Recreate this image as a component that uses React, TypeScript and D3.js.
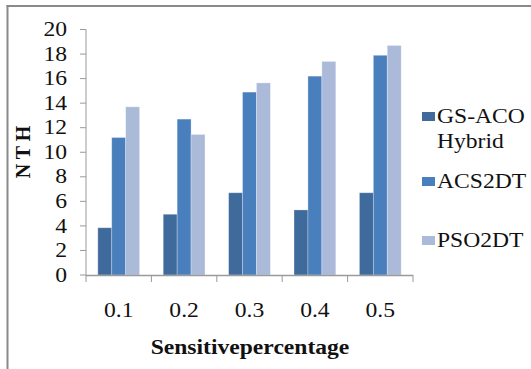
import React from "react";
import * as d3 from "d3";

const categories = ["0.1", "0.2", "0.3", "0.4", "0.5"];
const seriesNames = ["GS-ACO Hybrid", "ACS2DT", "PSO2DT"];
const gsAcoHybrid = [3.85, 4.95, 6.7, 5.3, 6.7];
const acs2dt = [11.2, 12.7, 14.9, 16.2, 17.9];
const pso2dt = [13.7, 11.45, 15.65, 17.4, 18.7];
const yTicks = [0, 2, 4, 6, 8, 10, 12, 14, 16, 18, 20];
const colors = ["#3F6A9C", "#4A7FBD", "#AABAD8"];

const W = 531;
const H = 369;
const FONT = `"Liberation Serif", monospace`;
const SX = 1.18;

function T({ x, y, anchor = "start", size = 20, bold = false, children }: any) {
  return (
    <text
      transform={`translate(${x},${y}) scale(${SX},1)`}
      x={0}
      y={0}
      textAnchor={anchor}
      fontSize={size}
      fontWeight={bold ? "bold" : "normal"}
      fill="#111"
      style={{ fontFamily: FONT }}
    >
      {children}
    </text>
  );
}

export default function App() {
  const values = [gsAcoHybrid, acs2dt, pso2dt];
  const y = d3.scaleLinear().domain([0, 20]).range([275, 29.5]);
  const x0 = d3.scaleBand<string>().domain(categories).range([86, 413]).padding(0);
  const x1 = d3
    .scaleBand<string>()
    .domain(seriesNames)
    .range([0, x0.bandwidth()])
    .paddingInner(0)
    .paddingOuter(0.85);

  const legendRows = [
    { lines: ["GS-ACO", "Hybrid"], base: 123 },
    { lines: ["ACS2DT"], base: 188 },
    { lines: ["PSO2DT"], base: 247 },
  ];

  const boundaries = d3.range(categories.length + 1).map((i) => 86 + i * x0.step());

  return (
    <svg width={W} height={H} style={{ position: "absolute", left: 0, top: 0, background: "#fff" }}>
      <rect x={0} y={0} width={W} height={H} fill="#fff" />
      <line x1={6.5} x2={W} y1={6} y2={6} stroke="#8a8a8a" strokeWidth={2} />
      <line x1={7.5} x2={7.5} y1={5} y2={H} stroke="#8a8a8a" strokeWidth={2} />

      {categories.map((c, ci) => (
        <g key={c} transform={`translate(${x0(c)},0)`}>
          {seriesNames.map((s, si) => (
            <rect
              key={s}
              x={x1(s)}
              y={y(values[si][ci])}
              width={x1.bandwidth()}
              height={y(0) - y(values[si][ci])}
              fill={colors[si]}
              stroke="#ffffff"
              strokeOpacity={0.35}
              strokeWidth={0.8}
            />
          ))}
        </g>
      ))}

      <line x1={86} x2={86} y1={y(20)} y2={y(0)} stroke="#9a9a9a" strokeWidth={1} />
      {yTicks.map((t) => (
        <g key={t}>
          <line x1={80} x2={86} y1={y(t)} y2={y(t)} stroke="#9a9a9a" strokeWidth={1} />
          <T x={67} y={y(t) + 6.6} anchor="end">
            {t}
          </T>
        </g>
      ))}

      <line x1={86} x2={413} y1={y(0) + 0.5} y2={y(0) + 0.5} stroke="#9a9a9a" strokeWidth={1.5} />
      {boundaries.map((bx, i) => (
        <line key={i} x1={bx} x2={bx} y1={y(0)} y2={y(0) + 7} stroke="#9a9a9a" strokeWidth={1} />
      ))}
      {categories.map((c) => (
        <T key={c} x={(x0(c) as number) + x0.bandwidth() / 2} y={317} anchor="middle">
          {c}
        </T>
      ))}

      <text
        transform="translate(30,152) rotate(-90)"
        textAnchor="middle"
        fontSize={20}
        fontWeight="bold"
        fill="#111"
        style={{ fontFamily: FONT }}
      >
        N T H
      </text>
      <T x={250} y={354} anchor="middle" bold>
        Sensitivepercentage
      </T>

      {legendRows.map((row, i) => (
        <g key={i}>
          <rect x={422} y={row.base - 11} width={13} height={9} fill={colors[i]} />
          {row.lines.map((ln, li) => (
            <T key={li} x={437} y={row.base + li * 25}>
              {ln}
            </T>
          ))}
        </g>
      ))}
    </svg>
  );
}
